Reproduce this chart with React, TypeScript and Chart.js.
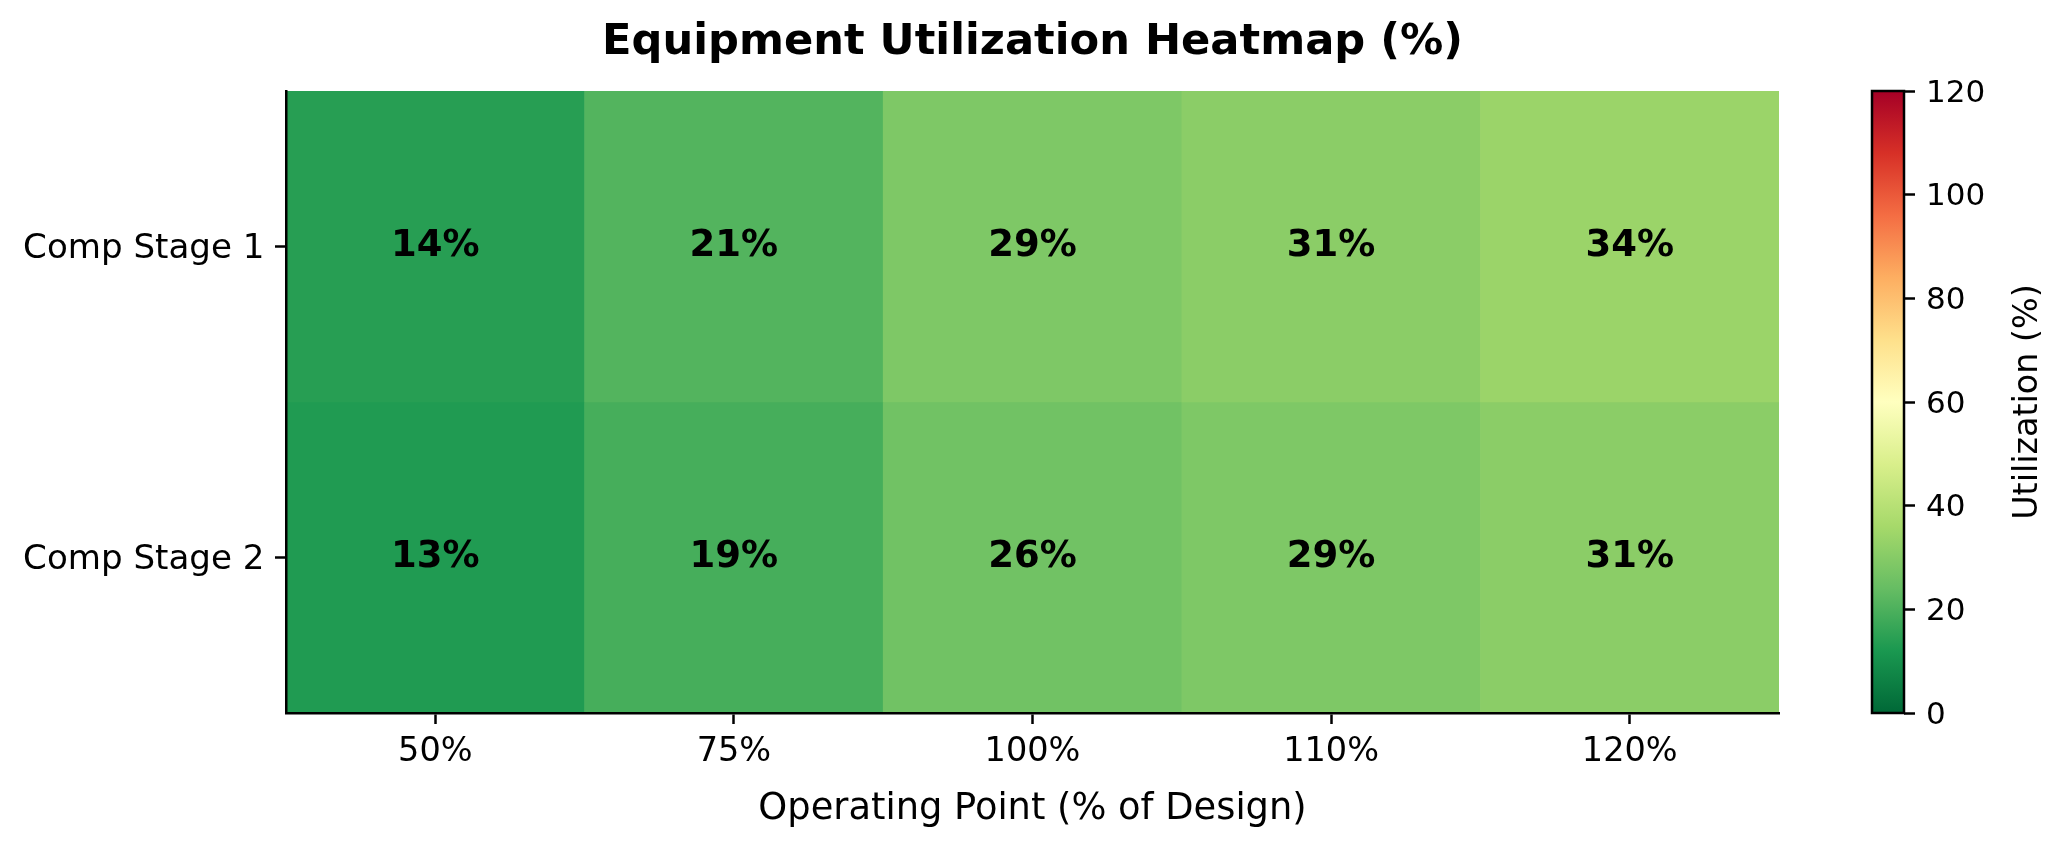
import React, { useEffect, useRef } from "react";
import { Chart, registerables } from "chart.js";

Chart.register(...registerables);

const operatingPoints = ["50%", "75%", "100%", "110%", "120%"];
const stages = ["Comp Stage 1", "Comp Stage 2"];
const stage1Values = [14, 21, 28.5, 31, 34];
const stage2Values = [13, 19, 26, 28.5, 31];
const colorbarRange = [0, 120];
const colormap = ["#006837", "#1a9850", "#66bd63", "#a6d96a", "#d9ef8b", "#ffffbf", "#fee08b", "#fdae61", "#f46d43", "#d73027", "#a50026"];

const FONT = "'DejaVu Sans'";
const W = 2065;
const H = 851;
const AXIS_LEFT = 286;
const AXIS_RIGHT = 1779;
const AXIS_TOP = 91;
const AXIS_BOTTOM = 713;

function hexToRgb(h: string) {
  return [parseInt(h.slice(1, 3), 16), parseInt(h.slice(3, 5), 16), parseInt(h.slice(5, 7), 16)];
}

function colorFor(v: number) {
  const t = Math.max(0, Math.min(1, (v - colorbarRange[0]) / (colorbarRange[1] - colorbarRange[0])));
  const p = t * (colormap.length - 1);
  const i = Math.min(colormap.length - 2, Math.floor(p));
  const f = p - i;
  const a = hexToRgb(colormap[i]);
  const b = hexToRgb(colormap[i + 1]);
  return `rgb(${a.map((c, k) => Math.round(c + (b[k] - c) * f)).join(",")})`;
}

const rows = [stage1Values, stage2Values];

const cellLabels = {
  id: "cellLabels",
  afterDatasetsDraw(chart: any) {
    const { ctx, scales } = chart;
    ctx.save();
    ctx.fillStyle = "#000";
    ctx.font = `bold 37px ${FONT}`;
    ctx.textAlign = "center";
    ctx.textBaseline = "middle";
    rows.forEach((row, r) => {
      row.forEach((v, c) => {
        ctx.fillText(`${Math.round(v)}%`, scales.x.getPixelForValue(c), scales.y.getPixelForValue(r) - 0.5);
      });
    });
    ctx.restore();
  },
};

const colorbarFrame = {
  id: "colorbarFrame",
  afterDatasetsDraw(chart: any) {
    const { ctx, chartArea: a } = chart;
    ctx.save();
    ctx.strokeStyle = "#000";
    ctx.lineWidth = 2.5;
    ctx.strokeRect(a.left, a.top, a.right - a.left, a.bottom - a.top);
    ctx.fillStyle = "#000";
    ctx.font = `33.4px ${FONT}`;
    ctx.textAlign = "center";
    ctx.textBaseline = "middle";
    ctx.translate(2028, (a.top + a.bottom) / 2);
    ctx.rotate(-Math.PI / 2);
    ctx.fillText("Utilization (%)", 0, 0);
    ctx.restore();
  },
};

export default function App() {
  const mainRef = useRef<HTMLCanvasElement>(null);
  const barRef = useRef<HTMLCanvasElement>(null);

  useEffect(() => {
    const main = new Chart(mainRef.current!, {
      type: "bar",
      data: {
        labels: operatingPoints,
        datasets: rows.map((row, r) => ({
          label: stages[r],
          data: row.map(() => [r - 0.5, r + 0.5]),
          backgroundColor: row.map(colorFor),
          borderWidth: 0,
          barPercentage: 1,
          categoryPercentage: 1,
          grouped: false,
        })),
      } as any,
      options: {
        responsive: false,
        animation: false,
        devicePixelRatio: 1,
        plugins: {
          legend: { display: false },
          tooltip: { enabled: false },
          title: {
            display: true,
            text: "Equipment Utilization Heatmap (%)",
            color: "#000",
            font: { family: FONT, size: 43.2, weight: "bold", lineHeight: 1.2 },
            padding: { top: 16.7, bottom: AXIS_TOP - 16.7 - 43.2 * 1.2 },
          },
        },
        scales: {
          x: {
            type: "category",
            grid: { display: true, offset: false, drawOnChartArea: false, drawTicks: true, tickLength: 11, tickColor: "#000", tickWidth: 2.5 },
            border: { display: true, color: "#000", width: 2.5, z: 1 },
            ticks: { color: "#000", font: { family: FONT, size: 33.5 }, padding: 8, maxRotation: 0 },
            title: {
              display: true,
              text: "Operating Point (% of Design)",
              color: "#000",
              font: { family: FONT, size: 36.8, lineHeight: 1.2 },
              padding: { top: 0, bottom: 19 },
            },
            afterFit(scale: any) {
              scale.height = H - AXIS_BOTTOM;
            },
          },
          y: {
            type: "linear",
            min: -0.5,
            max: 1.5,
            reverse: true,
            afterBuildTicks(scale: any) {
              scale.ticks = stages.map((_, i) => ({ value: i }));
            },
            grid: { display: true, drawOnChartArea: false, drawTicks: true, tickLength: 11, tickColor: "#000", tickWidth: 2.5 },
            border: { display: true, color: "#000", width: 2.5, z: 1 },
            ticks: {
              color: "#000",
              font: { family: FONT, size: 34.1 },
              padding: 10.6,
              labelOffset: 2.5,
              callback: (v: any) => stages[v as number],
            },
            afterFit(scale: any) {
              scale.width = AXIS_LEFT;
            },
          },
          rightGap: {
            type: "linear",
            position: "right",
            grid: { display: false },
            border: { display: false },
            ticks: { display: false },
            afterFit(scale: any) {
              scale.width = W - AXIS_RIGHT;
            },
          },
        },
      } as any,
      plugins: [cellLabels],
    });

    const bar = new Chart(barRef.current!, {
      type: "bar",
      data: {
        labels: ["Utilization (%)"],
        datasets: [
          {
            data: [colorbarRange],
            backgroundColor(ctx: any) {
              const area = ctx.chart.chartArea;
              if (!area) return colormap[0];
              const g = ctx.chart.ctx.createLinearGradient(0, area.bottom, 0, area.top);
              colormap.forEach((c, i) => g.addColorStop(i / (colormap.length - 1), c));
              return g;
            },
            borderWidth: 0,
            barPercentage: 1,
            categoryPercentage: 1,
          },
        ],
      } as any,
      options: {
        responsive: false,
        animation: false,
        devicePixelRatio: 1,
        layout: { padding: { left: 1872, right: 0, top: AXIS_TOP, bottom: H - AXIS_BOTTOM } },
        plugins: { legend: { display: false }, tooltip: { enabled: false }, title: { display: false } },
        scales: {
          x: { display: false },
          y: {
            type: "linear",
            position: "right",
            min: colorbarRange[0],
            max: colorbarRange[1],
            grid: { display: true, drawOnChartArea: false, drawTicks: true, tickLength: 11, tickColor: "#000", tickWidth: 2.5 },
            border: { display: false },
            ticks: { color: "#000", font: { family: FONT, size: 31 }, stepSize: 20, padding: 11, labelOffset: 2.5 },
            afterFit(scale: any) {
              scale.width = W - 1904;
            },
          },
        },
      } as any,
      plugins: [colorbarFrame],
    });

    return () => {
      main.destroy();
      bar.destroy();
    };
  }, []);

  const canvasStyle: React.CSSProperties = { position: "absolute", left: 0, top: 0, display: "block" };
  return (
    <div style={{ position: "absolute", left: 0, top: 0, width: W, height: H, background: "#fff", overflow: "hidden" }}>
      <canvas ref={mainRef} width={W} height={H} style={canvasStyle} />
      <canvas ref={barRef} width={W} height={H} style={canvasStyle} />
    </div>
  );
}
